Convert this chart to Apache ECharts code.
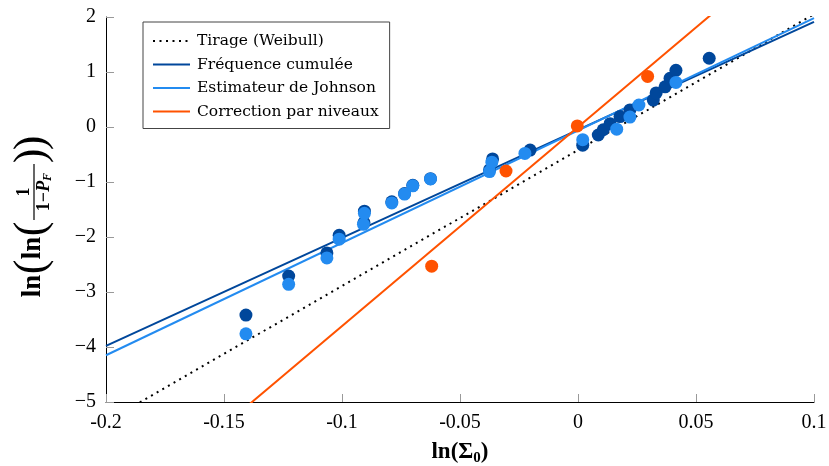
<!DOCTYPE html>
<html><head><meta charset="utf-8">
<script src="https://cdn.jsdelivr.net/npm/echarts@6/dist/echarts.min.js"></script>
<style>html,body{margin:0;padding:0;background:#fff}#c{width:829px;height:466px}</style>
</head><body><div id="c"></div>
<script>
// Axis range / ticks
const xMin = -0.2, xMax = 0.1, xStep = 0.05;
const yMin = -5, yMax = 2, yStep = 1;

// Scatter points : Fréquence cumulée
const cumulX = [-0.1407,-0.1226,-0.1064,-0.1012,-0.0907,-0.0905,-0.0789,-0.0735,-0.0700,-0.0625,-0.0375,-0.0362,-0.0203,0.0020,0.0086,0.0107,0.0136,0.0178,0.0220,0.0319,0.0331,0.0369,0.0390,0.0415,0.0556];
const cumulY = [-3.42,-2.71,-2.29,-1.97,-1.74,-1.53,-1.36,-1.21,-1.06,-0.94,-0.78,-0.58,-0.42,-0.33,-0.145,-0.05,0.06,0.19,0.31,0.49,0.62,0.73,0.885,1.03,1.25];
// Scatter points : Estimateur de Johnson
const johnX = [-0.1407,-0.1226,-0.1064,-0.1012,-0.0909,-0.0905,-0.0789,-0.0735,-0.0700,-0.0625,-0.0375,-0.0365,-0.0225,0.0020,0.0164,0.0220,0.0258,0.0415];
const johnY = [-3.76,-2.86,-2.38,-2.04,-1.77,-1.57,-1.38,-1.22,-1.07,-0.945,-0.81,-0.64,-0.48,-0.23,-0.04,0.18,0.40,0.81];
// Scatter points : Correction par niveaux
const corrX = [-0.0620,-0.0305,-0.0003,0.0295];
const corrY = [-2.53,-0.80,0.02,0.92];

// Fitted lines (end points)
const lineX = [-0.2, 0.1];
const weibullY = [-5.36, 2.05];
const cumulLineY = [-3.98, 1.91];
const johnLineY = [-4.15, 1.98];
const corrLineY = [-7.24, 3.62];

const names = ['Tirage (Weibull)','Fréquence cumulée','Estimateur de Johnson','Correction par niveaux'];
const cDark = '#00479b', cLight = '#238bf0', cOrange = '#ff5200';

const zip = (a,b) => a.map((v,i)=>[v,b[i]]);

const chart = echarts.init(document.getElementById('c'));
const serifFont = 'Liberation Serif';
const T = (x, y, text, size, extra) => ({type: 'text', x: x, y: y, style: Object.assign({
  text: text, fontFamily: serifFont, fontSize: size, fill: '#000', align: 'center', verticalAlign: 'middle'}, extra || {})});
chart.setOption({
  animation: false,
  backgroundColor: '#fff',
  grid: {left: 106, right: 15, top: 17, bottom: 64, containLabel: false, outerBoundsMode: 'none'},
  xAxis: {
    type: 'value', min: xMin, max: xMax, interval: xStep,
    axisLine: {show: true, onZero: false, lineStyle: {color: '#000', width: 1}},
    axisTick: {show: true, inside: true, length: 8, lineStyle: {color: '#999'}},
    splitLine: {show: false},
    axisLabel: {color: '#000', fontFamily: serifFont, fontSize: 20, margin: 11,
      formatter: v => String(parseFloat(v.toFixed(2)))},
    name: '{a|ln(Σ}{s|0}{a|)}', nameLocation: 'middle', nameGap: 37,
    nameTextStyle: {rich: {
      a: {fontFamily: serifFont, fontWeight: 'bold', fontSize: 23, color: '#000'},
      s: {fontFamily: serifFont, fontWeight: 'bold', fontSize: 15, color: '#000', padding: [12,0,0,0]}
    }}
  },
  yAxis: {
    type: 'value', min: yMin, max: yMax, interval: yStep,
    axisLine: {show: true, onZero: false, lineStyle: {color: '#000', width: 1}},
    axisTick: {show: true, inside: true, length: 8, lineStyle: {color: '#999'}},
    splitLine: {show: false},
    axisLabel: {color: '#000', fontFamily: serifFont, fontSize: 20, margin: 10,
      formatter: v => String(v).replace('-', '\u2212')}
  },
  legend: {
    data: names, orient: 'vertical', left: 143, top: 22,
    padding: [11, 11, 9, 9], itemGap: 7.5, itemWidth: 37, itemHeight: 14,
    borderColor: '#444', borderWidth: 1, backgroundColor: '#fff',
    itemStyle: {opacity: 0},
    textStyle: {fontFamily: 'DejaVu Serif', fontSize: 15.5, color: '#000', padding: [0,0,0,2]}
  },
  graphic: [{
    type: 'group', x: 33, y: 212, rotation: Math.PI / 2,
    children: [
      T(-74, 0, 'ln', 27, {fontWeight: 'bold'}),
      T(-55, -1, '(', 44),
      T(-36, 0, 'ln', 27, {fontWeight: 'bold'}),
      T(-17, -1, '(', 44),
      T(20, -9, '1', 18, {fontWeight: 'bold'}),
      {type: 'line', shape: {x1: -8, y1: 1, x2: 48, y2: 1}, style: {stroke: '#000', lineWidth: 1.2}},
      {type: 'text', x: 20, y: 11, style: {text: '{a|1\u2212}{p|P}{s|F}', align: 'center', verticalAlign: 'middle',
        rich: {a: {fontFamily: serifFont, fontWeight: 'bold', fontSize: 18, fill: '#000'},
               p: {fontFamily: serifFont, fontWeight: 'bold', fontStyle: 'italic', fontSize: 18, fill: '#000'},
               s: {fontFamily: serifFont, fontWeight: 'bold', fontStyle: 'italic', fontSize: 12, fill: '#000', padding: [7,0,0,0]}}}},
      T(56, -1, ')', 44),
      T(69, -1, ')', 44)
    ]
  }],
  series: [
    {name: names[0], type: 'line', data: zip(lineX, weibullY), symbol: 'none', clip: true, z: 2,
      lineStyle: {color: '#000', width: 2, type: [2, 4.5]}, itemStyle: {color: '#000'}},
    {name: names[1], type: 'line', data: zip(lineX, cumulLineY), symbol: 'none', clip: true, z: 2,
      lineStyle: {color: cDark, width: 2}, itemStyle: {color: cDark}},
    {name: names[2], type: 'line', data: zip(lineX, johnLineY), symbol: 'none', clip: true, z: 2,
      lineStyle: {color: cLight, width: 2}, itemStyle: {color: cLight}},
    {name: names[3], type: 'line', data: zip(lineX, corrLineY), symbol: 'none', clip: true, z: 2,
      lineStyle: {color: cOrange, width: 2}, itemStyle: {color: cOrange}},
    {name: 'pts_cumul', type: 'scatter', data: zip(cumulX, cumulY), symbolSize: 13, z: 3,
      itemStyle: {color: cDark, opacity: 1}},
    {name: 'pts_john', type: 'scatter', data: zip(johnX, johnY), symbolSize: 13, z: 4,
      itemStyle: {color: cLight, opacity: 1}},
    {name: 'pts_corr', type: 'scatter', data: zip(corrX, corrY), symbolSize: 13, z: 5,
      itemStyle: {color: cOrange, opacity: 1}}
  ]
});
</script></body></html>
